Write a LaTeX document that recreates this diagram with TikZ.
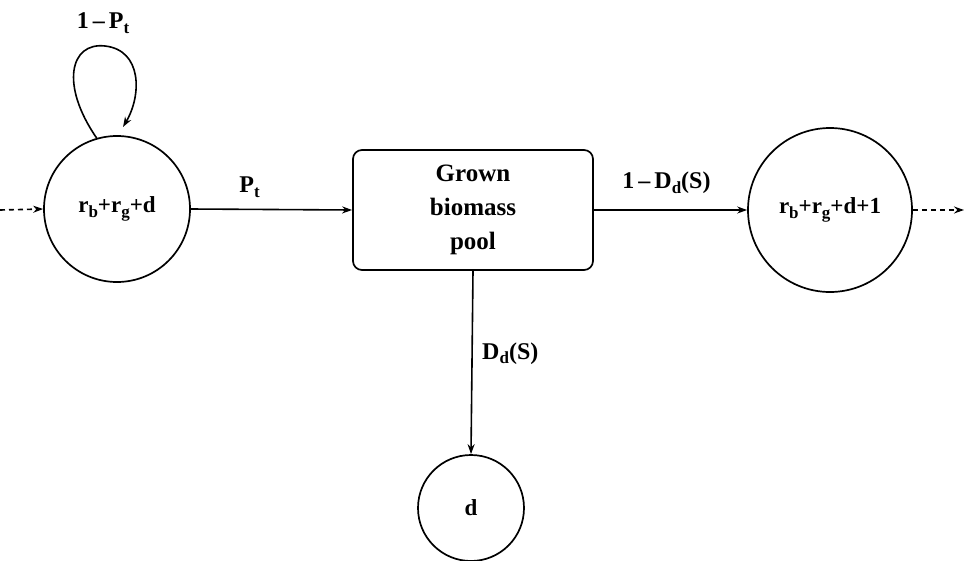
\documentclass[tikz,border=0pt]{standalone}
\usepackage{fontspec}
\setmainfont{Liberation Serif}
\usetikzlibrary{arrows.meta}
\newcommand{\sbs}[1]{\raisebox{-0.4ex}{\fontsize{17}{17}\selectfont #1}}
\begin{document}
\begin{tikzpicture}[x=1pt,y=-1pt,
  state/.style={draw,circle,inner sep=0pt,line width=1.7pt},
  pool/.style={draw,rounded corners=9pt,line width=1.7pt,align=center,font=\fontsize{25}{34}\selectfont\bfseries},
  lbl/.style={font=\fontsize{24}{26}\selectfont\bfseries},
  arr/.style={-{Stealth[length=10pt,width=7pt]},line width=1.6pt},
  darr/.style={-{Stealth[length=10pt,width=7pt]},line width=1.6pt,dash pattern=on 5pt off 4pt}]
\useasboundingbox (0,0) rectangle (964,560);
\node[state,minimum size=146pt,font=\fontsize{23}{24}\selectfont\bfseries] (L) at (117,209) {r\sbs{b}+r\sbs{g}+d};
\node[state,minimum size=164pt,font=\fontsize{23}{24}\selectfont\bfseries] (R) at (830,210) {r\sbs{b}+r\sbs{g}+d+1};
\node[state,minimum size=106pt,font=\fontsize{23}{24}\selectfont\bfseries] (D) at (471,508) {d};
\node[pool,minimum width=240pt,minimum height=120pt] (B) at (473,210) {Grown\\biomass\\pool};
\coordinate (in) at (0,210);
\coordinate (out) at (964,210);
\coordinate (loopend) at (123,127);
\draw[darr] (in) -- (L.west);
\draw[darr] (R.east) -- (out);
\draw[arr] (L.east) -- node[lbl,above=8pt,xshift=-22pt] (pt) {P\sbs{t}} (B.west);
\draw[arr] (B.east) -- node[lbl,above=12pt,xshift=-4pt] (one) {1\,–\,D\sbs{d}(S)} (R.west);
\draw[arr] (B.south) -- node[lbl,right=6pt,pos=0.45] (dd) {D\sbs{d}(S)} (D.north);
\draw[arr] (L.106) .. controls (60,85) and (70,42) .. (105,46) .. controls (142,50) and (142,95) .. (loopend);
\node[lbl] (lp) at (103,23) {1\,–\,P\sbs{t}};
\end{tikzpicture}
\end{document}
